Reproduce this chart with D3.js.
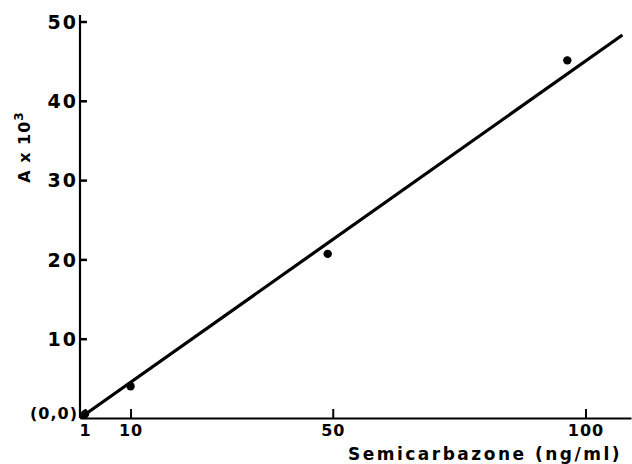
<!DOCTYPE html>
<html>
<head>
<meta charset="utf-8">
<script src="https://cdn.jsdelivr.net/npm/d3@7"></script>
<style>
  body { margin: 0; background: #fff; }
  text { font-family: "DejaVu Sans", sans-serif; font-weight: bold; fill: #000; }
</style>
</head>
<body>
<div id="chart"></div>
<script>
var svgWidth = 632;
var svgHeight = 464;

// measured points (ng/ml, A x 10^3)
var concentrations = [1, 10, 49, 96.4];
var absorbances = [0.5, 4, 20.7, 45.1];

// fitted line end points
var fitX = [0, 107.3];
var fitY = [0, 48.3];

var xTicks = [1, 10, 50, 100];
var yTicks = [10, 20, 30, 40, 50];

var svg = d3.select("#chart")
  .append("svg")
  .attr("width", svgWidth)
  .attr("height", svgHeight);

var x = d3.scaleLinear().domain([0, 109]).range([80, 631]);
var y = d3.scaleLinear().domain([0, 50]).range([418, 21.5]);

// x axis, ticks pointing up
var xAxis = svg.append("g")
  .attr("transform", "translate(0,418)")
  .call(d3.axisBottom(x).tickValues(xTicks).tickSize(-9).tickPadding(16).tickSizeOuter(0));
xAxis.select(".domain").attr("stroke-width", 2.2);
xAxis.selectAll(".tick line").attr("stroke-width", 2);
xAxis.selectAll(".tick text").attr("font-size", 16).attr("letter-spacing", 1).attr("dy", "0.15em");

// y axis, ticks pointing right
var yAxis = svg.append("g")
  .attr("transform", "translate(80,0)")
  .call(d3.axisLeft(y).tickValues(yTicks).tickSize(-7).tickPadding(2).tickSizeOuter(0));
yAxis.select(".domain").attr("d", "M0," + y(0) + "V15").attr("stroke-width", 2.2);
yAxis.selectAll(".tick line").attr("stroke-width", 2.5);
yAxis.selectAll(".tick text").attr("font-size", 19).attr("letter-spacing", 2).attr("dy", "0.36em");

svg.append("text")
  .attr("x", 78)
  .attr("y", y(0) - 5)
  .attr("text-anchor", "end")
  .attr("dy", "0.36em")
  .attr("font-size", 16)
  .attr("letter-spacing", 1)
  .text("(0,0)");

// fitted line
svg.append("path")
  .datum(d3.zip(fitX, fitY))
  .attr("d", d3.line().x(d => x(d[0])).y(d => y(d[1])))
  .attr("fill", "none")
  .attr("stroke", "#000")
  .attr("stroke-width", 3.2);

svg.selectAll("circle")
  .data(d3.zip(concentrations, absorbances))
  .enter()
  .append("circle")
  .attr("cx", d => x(d[0]))
  .attr("cy", d => y(d[1]))
  .attr("r", 4.2)
  .attr("fill", "#000");

svg.append("text")
  .attr("x", 485)
  .attr("y", 454)
  .attr("text-anchor", "middle")
  .attr("dy", "0.35em")
  .attr("font-size", 17)
  .attr("letter-spacing", 2.5)
  .text("Semicarbazone (ng/ml)");

var yLabel = svg.append("text")
  .attr("transform", "translate(24,147) rotate(-90)")
  .attr("text-anchor", "middle")
  .attr("dy", "0.35em")
  .attr("font-size", 16)
  .attr("letter-spacing", 1);
yLabel.append("tspan").text("A x 10");
yLabel.append("tspan").attr("dy", "-0.55em").attr("font-size", 12).text("3");
</script>
</body>
</html>
